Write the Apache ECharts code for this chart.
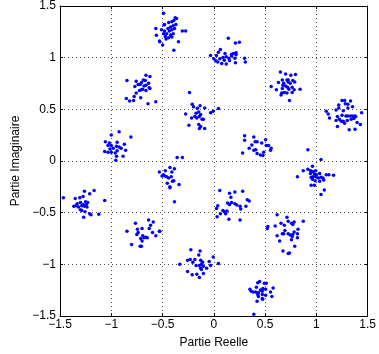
<!DOCTYPE html>
<html><head><meta charset="utf-8">
<script src="https://cdn.jsdelivr.net/npm/echarts@6/dist/echarts.min.js"></script>
<style>html,body{margin:0;padding:0;background:#fff}#c{width:379px;height:354px}</style>
</head><body><div id="c"></div>
<script>
var xTicks = [-1.5, -1, -0.5, 0, 0.5, 1, 1.5];
var yTicks = [-1.5, -1, -0.5, 0, 0.5, 1, 1.5];
var xName = 'Partie Reelle';
var yName = 'Partie Imaginaire';

var clusterA = [[-0.49,1.43],[-0.377,1.386],[-0.364,1.379],[-0.39,1.36],[-0.409,1.347],[-0.44,1.34],[-0.48,1.322],[-0.486,1.315],[-0.37,1.322],[-0.396,1.309],[-0.422,1.296],[-0.447,1.283],[-0.51,1.27],[-0.383,1.283],[-0.409,1.27],[-0.48,1.258],[-0.434,1.258],[-0.307,1.258],[-0.275,1.258],[-0.49,1.232],[-0.46,1.232],[-0.396,1.232],[-0.422,1.219],[-0.473,1.206],[-0.44,1.193],[-0.409,1.2],[-0.466,1.181],[-0.345,1.155],[-0.53,1.162],[-0.499,1.123],[-0.39,1.072],[-0.566,1.283],[-0.56,1.217],[-0.527,1.155]];
var clusterB = [[0.141,1.187],[0.211,1.143],[0.249,1.149],[0.064,1.079],[0.045,1.053],[-0.032,1.021],[0.026,1.021],[0.109,1.04],[0.173,1.034],[0.192,1.04],[0.217,1.047],[0.217,1.028],[0,0.989],[0.058,0.989],[0.089,1.002],[0.121,1.008],[0.147,0.995],[0.173,1.015],[0.205,0.995],[0.038,0.957],[0.077,0.944],[0.121,0.938],[0.153,0.97],[0.211,0.951],[0.30,0.995],[0.307,0.957],[0.019,0.97],[0.102,0.976]];
var clusterC = [[0.649,0.861],[0.70,0.842],[0.751,0.829],[0.796,0.836],[0.668,0.785],[0.713,0.785],[0.725,0.785],[0.77,0.778],[0.63,0.759],[0.681,0.753],[0.725,0.765],[0.745,0.753],[0.789,0.765],[0.559,0.721],[0.674,0.733],[0.70,0.727],[0.719,0.714],[0.764,0.714],[0.61,0.689],[0.668,0.702],[0.732,0.695],[0.783,0.689],[0.841,0.695],[0.662,0.657],[0.687,0.663],[0.713,0.657],[0.764,0.663],[0.655,0.638],[0.738,0.586]];
var clusterD = [[1.25,0.586],[1.275,0.586],[1.333,0.58],[1.218,0.542],[1.282,0.554],[1.307,0.548],[1.096,0.481],[1.115,0.455],[1.128,0.417],[1.192,0.494],[1.218,0.513],[1.262,0.487],[1.307,0.513],[1.352,0.526],[1.384,0.43],[1.25,0.443],[1.205,0.43],[1.192,0.391],[1.224,0.404],[1.243,0.385],[1.262,0.385],[1.275,0.366],[1.301,0.391],[1.288,0.436],[1.307,0.436],[1.333,0.436],[1.352,0.436],[1.377,0.436],[1.339,0.404],[1.365,0.411],[1.397,0.372],[1.429,0.353],[1.441,0.468],[1.205,0.334],[1.32,0.302],[1.377,0.308]];
var clusterE = [[-0.662,0.829],[-0.623,0.817],[-0.847,0.778],[-0.757,0.772],[-0.687,0.785],[-0.668,0.778],[-0.706,0.759],[-0.636,0.753],[-0.738,0.74],[-0.77,0.721],[-0.719,0.74],[-0.681,0.727],[-0.662,0.733],[-0.63,0.708],[-0.706,0.689],[-0.662,0.682],[-0.725,0.682],[-0.694,0.695],[-0.757,0.657],[-0.777,0.625],[-0.623,0.702],[-0.853,0.606],[-0.821,0.58],[-0.783,0.586],[-0.713,0.612],[-0.642,0.554],[-0.566,0.574]];
var clusterF = [[-0.237,0.663],[-0.211,0.548],[-0.134,0.535],[-0.198,0.526],[-0.16,0.51],[-0.089,0.513],[0.045,0.507],[-0.147,0.475],[-0.275,0.455],[-0.173,0.462],[-0.006,0.481],[-0.032,0.468],[-0.128,0.449],[-0.185,0.43],[-0.141,0.43],[-0.217,0.417],[-0.166,0.417],[-0.115,0.404],[-0.102,0.404],[-0.243,0.347],[-0.147,0.353],[-0.128,0.334],[-0.141,0.315],[-0.089,0.315]];
var clusterG = [[0.30,0.244],[0.39,0.232],[0.505,0.206],[0.30,0.20],[0.403,0.187],[0.422,0.187],[0.371,0.155],[0.467,0.174],[0.345,0.123],[0.39,0.104],[0.409,0.11],[0.281,0.078],[0.422,0.072],[0.454,0.059],[0.486,0.085],[0.479,0.053],[0.511,0.149],[0.534,0.149],[0.559,0.123],[0.553,0.104]];
var clusterH = [[0.917,0.11],[1.045,0.014],[0.962,-0.05],[0.872,-0.094],[0.917,-0.081],[0.943,-0.094],[0.968,-0.101],[0.994,-0.094],[0.815,-0.152],[0.943,-0.12],[0.981,-0.126],[1.0,-0.133],[1.032,-0.12],[1.096,-0.133],[1.122,-0.133],[1.167,-0.139],[0.949,-0.158],[0.968,-0.152],[0.994,-0.152],[1.019,-0.165],[1.045,-0.158],[1.064,-0.165],[0.962,-0.177],[0.988,-0.19],[1.032,-0.197],[1.071,-0.184],[0.949,-0.235],[0.981,-0.235],[1.077,-0.28],[1.045,-0.324]];
var clusterI = [[-0.924,0.283],[-1.0,0.251],[-0.809,0.232],[-1.058,0.187],[-1.019,0.174],[-1.032,0.149],[-1.0,0.149],[-0.943,0.181],[-0.949,0.142],[-0.924,0.136],[-0.904,0.123],[-0.872,0.161],[-0.86,0.104],[-0.981,0.123],[-1.064,0.091],[-1.032,0.085],[-1.0,0.085],[-0.962,0.078],[-1.013,0.117],[-0.943,0.098],[-0.885,0.046],[-0.949,0.046],[-0.956,0.008]];
var clusterJ = [[-0.358,0.034],[-0.307,0.034],[-0.428,-0.062],[-0.384,-0.075],[-0.473,-0.094],[-0.409,-0.107],[-0.492,-0.133],[-0.479,-0.145],[-0.46,-0.152],[-0.505,-0.145],[-0.415,-0.152],[-0.531,-0.107],[-0.441,-0.165],[-0.39,-0.19],[-0.403,-0.197],[-0.454,-0.216],[-0.339,-0.228],[-0.428,-0.248],[-0.428,-0.26],[-0.384,-0.395]];
var clusterK = [[0.058,-0.286],[0.153,-0.312],[0.205,-0.299],[0.281,-0.292],[0.326,-0.376],[0.345,-0.388],[0.166,-0.35],[0.134,-0.407],[0.153,-0.42],[0.173,-0.401],[0.205,-0.414],[0.224,-0.427],[0.256,-0.439],[0.313,-0.439],[0.038,-0.433],[0.026,-0.459],[0.089,-0.478],[0.102,-0.491],[0.128,-0.484],[0.064,-0.51],[0.115,-0.51],[0.262,-0.465],[0.032,-0.539],[0.147,-0.564],[0.256,-0.57]];
var clusterL = [[0.617,-0.519],[0.713,-0.545],[0.725,-0.583],[0.783,-0.59],[0.757,-0.602],[0.77,-0.615],[0.872,-0.583],[0.655,-0.602],[0.598,-0.628],[0.687,-0.622],[0.527,-0.634],[0.521,-0.654],[0.821,-0.66],[0.693,-0.673],[0.783,-0.686],[0.668,-0.705],[0.681,-0.705],[0.725,-0.705],[0.745,-0.717],[0.77,-0.711],[0.815,-0.705],[0.617,-0.724],[0.764,-0.73],[0.815,-0.743],[0.642,-0.775],[0.757,-0.762],[0.789,-0.826],[0.674,-0.871],[0.738,-0.89],[0.725,-0.896]];
var clusterM = [[-1.467,-0.356],[-1.262,-0.292],[-1.211,-0.318],[-1.167,-0.286],[-1.275,-0.344],[-1.352,-0.363],[-1.307,-0.356],[-1.064,-0.382],[-1.333,-0.414],[-1.301,-0.401],[-1.275,-0.42],[-1.25,-0.395],[-1.243,-0.42],[-1.23,-0.401],[-1.365,-0.439],[-1.345,-0.433],[-1.32,-0.446],[-1.288,-0.433],[-1.262,-0.439],[-1.237,-0.446],[-1.301,-0.471],[-1.288,-0.478],[-1.256,-0.491],[-1.211,-0.51],[-1.122,-0.516],[-1.198,-0.519],[-1.269,-0.545]];
var clusterN = [[-0.636,-0.57],[-0.591,-0.59],[-0.764,-0.602],[-0.617,-0.622],[-0.70,-0.654],[-0.63,-0.654],[-0.745,-0.66],[-0.847,-0.679],[-0.598,-0.692],[-0.738,-0.692],[-0.527,-0.679],[-0.751,-0.711],[-0.693,-0.724],[-0.681,-0.743],[-0.662,-0.737],[-0.713,-0.749],[-0.649,-0.743],[-0.566,-0.724],[-0.70,-0.775],[-0.802,-0.807],[-0.719,-0.826],[-0.706,-0.826],[-0.531,-0.679]];
var clusterO = [[-0.224,-0.858],[-0.134,-0.871],[-0.256,-0.96],[-0.23,-0.954],[-0.205,-0.98],[-0.185,-0.954],[-0.147,-0.909],[-0.128,-0.96],[-0.109,-0.98],[-0.332,-0.999],[-0.173,-1.012],[-0.141,-1.012],[-0.121,-0.999],[-0.102,-1.018],[-0.045,-0.973],[-0.032,-1.012],[-0.006,-0.928],[0.045,-0.992],[-0.07,-1.037],[-0.128,-1.037],[-0.121,-1.05],[-0.256,-1.069],[-0.211,-1.101],[-0.166,-1.095],[-0.141,-1.127],[-0.102,-1.088]];
var clusterP = [[0.428,-1.178],[0.447,-1.165],[0.492,-1.184],[0.511,-1.184],[0.352,-1.242],[0.364,-1.261],[0.384,-1.267],[0.415,-1.222],[0.409,-1.267],[0.435,-1.274],[0.454,-1.248],[0.473,-1.261],[0.479,-1.235],[0.505,-1.242],[0.428,-1.293],[0.435,-1.312],[0.473,-1.293],[0.505,-1.299],[0.422,-1.357],[0.473,-1.331],[0.39,-1.484],[0.578,-1.229],[0.553,-1.267],[0.566,-1.312],[0.476,-1.337]];

var allPoints = [].concat(clusterA, clusterB, clusterC, clusterD, clusterE, clusterF, clusterG, clusterH,
  clusterI, clusterJ, clusterK, clusterL, clusterM, clusterN, clusterO, clusterP);

function fmt(v) { return String(v).replace('-', '\u2212'); }
var FONT = 'Liberation Sans, Arial, sans-serif';
var gridLine = { show: true, lineStyle: { color: '#555', type: [1, 3], width: 1 } };
var chart = echarts.init(document.getElementById('c'), null, { renderer: 'canvas' });
var baseX = { type: 'value', min: xTicks[0], max: xTicks[xTicks.length - 1], interval: 0.5 };
var baseY = { type: 'value', min: yTicks[0], max: yTicks[yTicks.length - 1], interval: 0.5 };
chart.setOption({
  animation: false,
  grid: { left: 60, top: 5, width: 313, height: 312, containLabel: false },
  xAxis: [
    Object.assign({}, baseX, {
      position: 'bottom',
      name: xName, nameLocation: 'middle', nameGap: 21,
      nameTextStyle: { fontFamily: FONT, fontSize: 12, color: '#000' },
      axisLine: { show: true, onZero: false, lineStyle: { color: '#000', width: 1 } },
      axisTick: { show: true, inside: true, length: 3, lineStyle: { color: '#000' } },
      axisLabel: { formatter: fmt, fontFamily: FONT, fontSize: 12, color: '#000', margin: 3, alignMinLabel: 'center', alignMaxLabel: 'center' },
      splitLine: gridLine
    }),
    Object.assign({}, baseX, {
      position: 'top',
      axisLine: { show: true, onZero: false, lineStyle: { color: '#000', width: 1 } },
      axisTick: { show: true, inside: true, length: 3, lineStyle: { color: '#000' } },
      axisLabel: { show: false },
      splitLine: { show: false }
    })
  ],
  yAxis: [
    Object.assign({}, baseY, {
      position: 'left',
      name: yName, nameLocation: 'middle', nameGap: 33, nameRotate: 90,
      nameTextStyle: { fontFamily: FONT, fontSize: 12, color: '#000' },
      axisLine: { show: true, onZero: false, lineStyle: { color: '#000', width: 1 } },
      axisTick: { show: true, inside: true, length: 3, lineStyle: { color: '#000' } },
      axisLabel: { formatter: fmt, fontFamily: FONT, fontSize: 12, color: '#000', margin: 4 },
      splitLine: gridLine
    }),
    Object.assign({}, baseY, {
      position: 'right',
      axisLine: { show: true, onZero: false, lineStyle: { color: '#000', width: 1 } },
      axisTick: { show: true, inside: true, length: 3, lineStyle: { color: '#000' } },
      axisLabel: { show: false },
      splitLine: { show: false }
    })
  ],
  series: [{
    type: 'scatter',
    xAxisIndex: 0, yAxisIndex: 0,
    data: allPoints,
    symbol: 'circle',
    symbolSize: 3.5,
    itemStyle: { color: '#0000ff', opacity: 1 },
    silent: true
  }]
});
</script>
</body></html>
